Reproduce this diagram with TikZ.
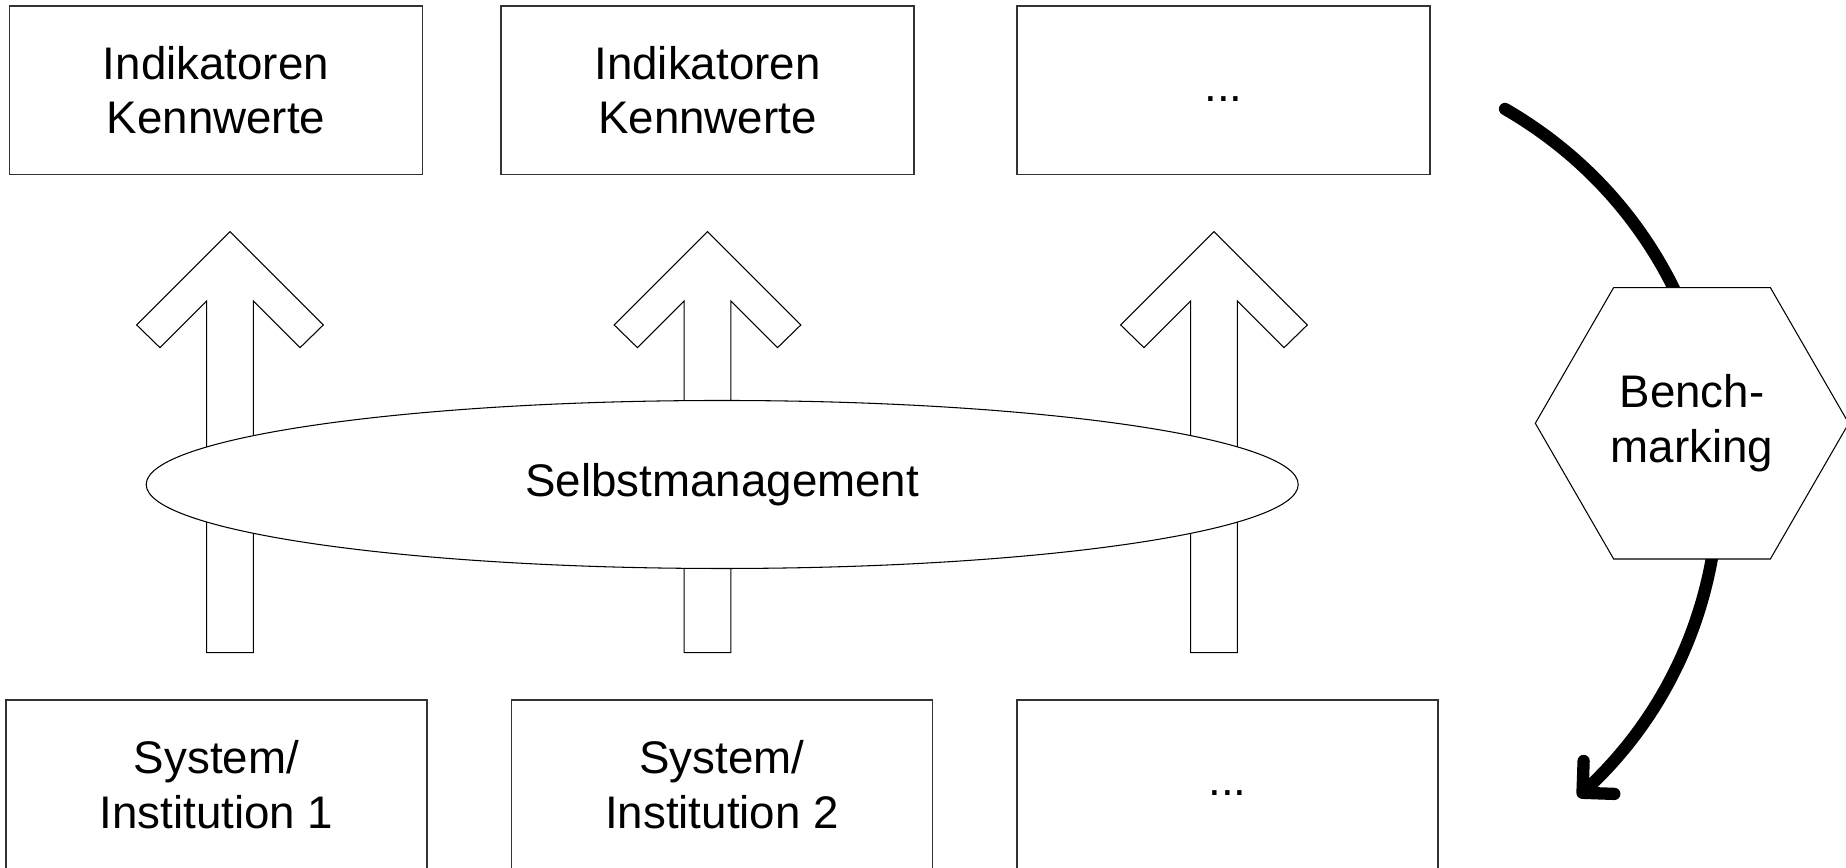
\documentclass[tikz,border=0pt]{standalone}
\usepackage{fontspec}
\setmainfont{Liberation Sans}
\usetikzlibrary{shapes.geometric,arrows.meta}
\tikzset{
  kasten/.style={draw=black!80,line width=0.6pt,minimum height=3.366cm,align=center,inner sep=0pt},
  blockpfeil/.style={draw=black,line width=0.6pt,fill=white},
  bogen/.style={line width=7pt,line cap=round,-{Straight Barb[length=4.5mm,width=9mm,round]}}
}
\begin{document}
\begin{tikzpicture}[font=\fontsize{26}{31}\selectfont]
\useasboundingbox (0,0) rectangle (36.92,17.36);
% obere Kaesten
\node[kasten,minimum width=8.26cm] (ind1) at (4.32,15.557) {Indikatoren\\Kennwerte};
\node[kasten,minimum width=8.26cm] (ind2) at (14.15,15.557) {Indikatoren\\Kennwerte};
\node[kasten,minimum width=8.26cm] (ind3) at (24.47,15.557) {\strut...};
% untere Kaesten (unten abgeschnitten)
\node[kasten,minimum width=8.42cm,minimum height=3.38cm] (sys1) at (4.33,1.67) {System/\\Institution 1};
\node[kasten,minimum width=8.42cm,minimum height=3.38cm] (sys2) at (14.44,1.67) {System/\\Institution 2};
\node[kasten,minimum width=8.42cm,minimum height=3.38cm] (sys3) at (24.55,1.67) {\strut...};
% Blockpfeile nach oben
\foreach \x in {4.6,14.15,24.28}
\draw[blockpfeil,shift={(\x,0)}] (0,12.726)--(1.866,10.86)--(1.4,10.406)--(0.466,11.34)
  --(0.466,4.306)--(-0.466,4.306)--(-0.466,11.34)--(-1.4,10.406)--(-1.866,10.86)--cycle;
% Ellipse ueber den Pfeilen
\node[ellipse,draw,line width=0.6pt,fill=white,minimum width=23.04cm,minimum height=3.36cm,inner sep=0pt] (selbst) at (14.444,7.67) {Selbstmanagement};
% Bogen hinter dem Sechseck
\coordinate (bmA) at (30.1,15.18);
\coordinate (bmB) at (31.56,1.42);
\draw[bogen] (bmA) to[out=-30,in=43,looseness=1.07] (bmB);
\node[regular polygon,regular polygon sides=6,draw,fill=white,line width=0.6pt,minimum size=6.268cm,inner sep=0pt,align=center] (bench) at (33.84,8.894) {Bench-\\marking};
\end{tikzpicture}
\end{document}
